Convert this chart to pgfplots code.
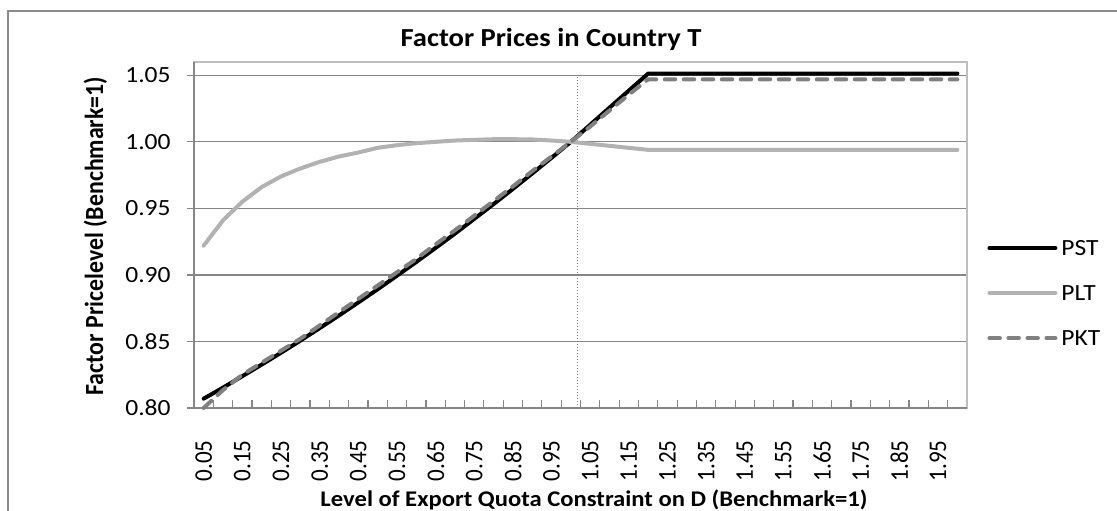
\documentclass[border=0pt]{standalone}
\usepackage{fontspec}
\setmainfont{Carlito}[FakeStretch=1.1]
\newfontfamily\rotfont{Carlito}[FakeStretch=0.91]
\usepackage{pgfplots}
\usepackage{pgfplotstable}
\pgfplotsset{compat=1.18}
\definecolor{gridgray}{HTML}{868686}
\definecolor{framegray}{HTML}{8C8C8C}
\definecolor{plotborder}{HTML}{BEBEBE}
\definecolor{pltgray}{HTML}{B2B2B2}
\definecolor{pktgray}{HTML}{808080}

\pgfplotstableread{
i pst plt pkt
0 0.8070 0.922 0.800
1 0.8153 0.941 0.8135
2 0.8239 0.955 0.825
3 0.8326 0.966 0.834
4 0.8415 0.974 0.843
5 0.8506 0.980 0.852
6 0.8600 0.985 0.862
7 0.8695 0.989 0.872
8 0.8793 0.992 0.882
9 0.8892 0.9955 0.892
10 0.8994 0.9975 0.902
11 0.9097 0.999 0.912
12 0.9203 1.000 0.923
13 0.9310 1.001 0.9335
14 0.9421 1.0015 0.9445
15 0.9532 1.002 0.9555
16 0.9646 1.002 0.9665
17 0.9762 1.0018 0.978
18 0.9880 1.001 0.989
19 1.0000 1.000 1.000
20 1.0128 0.9985 1.0115
21 1.0257 0.997 1.0235
22 1.0385 0.9955 1.0355
23 1.0513 0.994 1.047
24 1.0513 0.994 1.047
25 1.0513 0.994 1.047
26 1.0513 0.994 1.047
27 1.0513 0.994 1.047
28 1.0513 0.994 1.047
29 1.0513 0.994 1.047
30 1.0513 0.994 1.047
31 1.0513 0.994 1.047
32 1.0513 0.994 1.047
33 1.0513 0.994 1.047
34 1.0513 0.994 1.047
35 1.0513 0.994 1.047
36 1.0513 0.994 1.047
37 1.0513 0.994 1.047
38 1.0513 0.994 1.047
39 1.0513 0.994 1.047
}\pricedata

\begin{document}
\begin{tikzpicture}
\path[use as bounding box] (0,0) rectangle (558.5pt,255pt);
\draw[framegray, line width=1.2pt] (4pt,-20pt) rectangle (600pt,249.5pt);
\begin{axis}[
  at={(97pt,51pt)}, anchor=south west,
  width=386.5pt, height=173pt, scale only axis,
  xmin=-0.5, xmax=39.5, ymin=0.80, ymax=1.06,
  ytick={0.80,0.85,0.90,0.95,1.00,1.05},
  yticklabels={0.80,0.85,0.90,0.95,1.00,1.05},
  xtick={0,2,...,38},
  xticklabels={0.05,0.15,0.25,0.35,0.45,0.55,0.65,0.75,0.85,0.95,1.05,1.15,1.25,1.35,1.45,1.55,1.65,1.75,1.85,1.95},
  major x tick style={draw=none},
  minor xtick={-0.5,0.5,...,39.5},
  minor tick length=4pt,
  major tick length=3.5pt,
  tick align=inside,
  xtick pos=bottom, ytick pos=left,
  major y tick style={xshift=-3.5pt},
  tick style={gridgray, line width=0.6pt},
  ymajorgrids,
  major grid style={gridgray, line width=0.6pt},
  axis line style={plotborder, line width=0.7pt},
  yticklabel style={font=\fontsize{11.6}{13}\selectfont, inner sep=0pt, xshift=-11.5pt},
  xticklabel style={font=\rotfont\fontsize{12.7}{14}\selectfont, inner sep=0pt, yshift=-16pt, rotate=90, anchor=east},
  clip=false,
  legend style={at={(1.0259,0.332)}, anchor=west, draw=none, fill=none,
    font=\fontsize{11.6}{13}\selectfont, row sep=15pt, inner sep=0pt, column sep=2pt,
    nodes={inner sep=0pt, text height=7.5pt, text depth=0pt}},
  legend cell align=left,
  legend image code/.code={\draw[#1] (0pt,0pt) -- (33pt,0pt);},
]
\addplot[pktgray, line width=0.5pt, dash pattern=on 0.5pt off 1pt, forget plot] coordinates {(19.35,0.80) (19.35,1.05)};
\draw[gridgray, line width=0.8pt] (rel axis cs:0,1) -- (rel axis cs:0,0) -- (rel axis cs:1,0);
\addplot[black, line width=2pt, line cap=round, line join=round] table[x=i, y=pst] {\pricedata};
\addlegendentry{PST}
\addplot[pltgray, line width=2pt, line cap=round, line join=round] table[x=i, y=plt] {\pricedata};
\addlegendentry{PLT}
\addplot[pktgray, line width=2pt, line cap=round, line join=round, dash pattern=on 5.25pt off 4.25pt] table[x=i, y=pkt] {\pricedata};
\addlegendentry{PKT}
\end{axis}
\node[anchor=base, font=\bfseries\fontsize{13}{15}\selectfont] at (275.5pt,231.5pt) {Factor Prices in Country T};
\node[anchor=base, font=\bfseries\fontsize{11.2}{14}\selectfont] at (297pt,1.65pt) {Level of Export Quota Constraint on D (Benchmark=1)};
\node[rotate=90, anchor=base, font=\rotfont\bfseries\fontsize{13.1}{15}\selectfont] at (51.5pt,137pt) {Factor Pricelevel (Benchmark=1)};
\end{tikzpicture}
\end{document}
